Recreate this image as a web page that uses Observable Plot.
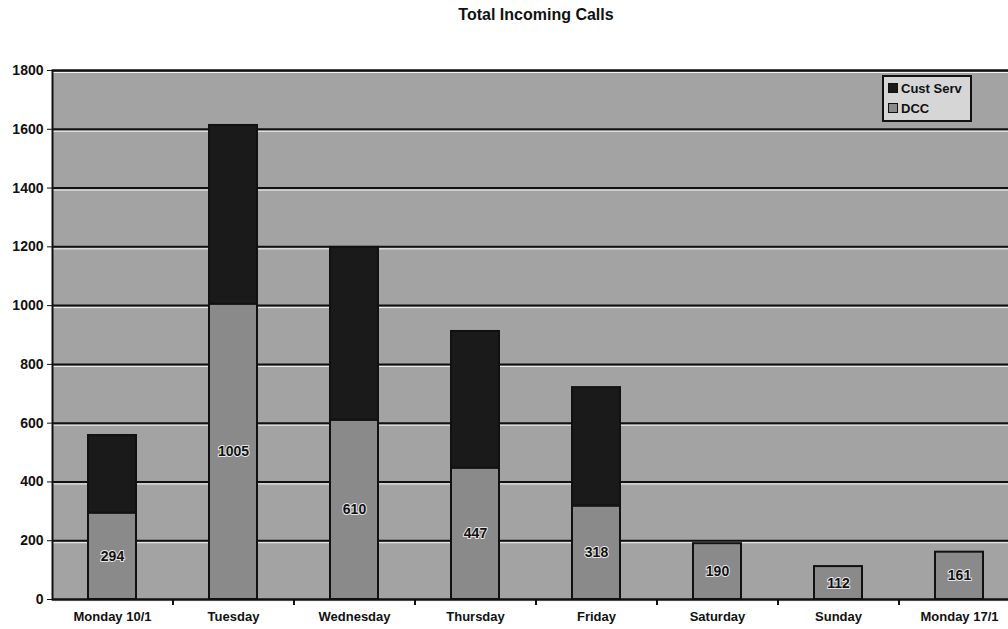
<!DOCTYPE html>
<html>
<head>
<meta charset="utf-8">
<script src="https://cdn.jsdelivr.net/npm/d3@7"></script>
<script src="https://cdn.jsdelivr.net/npm/@observablehq/plot@0.6"></script>
<style>
  html, body { margin: 0; padding: 0; background: white; overflow: hidden; width: 1008px; height: 629px; }
  body { font-family: "Liberation Sans", Arial, sans-serif; position: relative; }
  #title { height: 40px; line-height: 30px; text-align: center; padding-left: 64px; font-weight: bold; font-size: 16px; color: #111; }
  #legend { position: absolute; left: 882px; top: 75px; width: 86px; height: 43px; background: #d6d6d6; border: 2px solid #111; font-weight: bold; font-size: 13px; color: #111; padding: 0; }
  #legend .row { display: flex; align-items: center; height: 18px; margin-left: 4px; margin-top: 2px; }
  #legend .sw { width: 8px; height: 8px; border: 1px solid #111; margin-right: 3px; }
  #chart svg g[aria-label="y-axis tick label"] text, #chart svg g[aria-label="y-axis"] text { font-size: 14px; }
  #chart svg g[aria-label="x-axis tick label"] text, #chart svg g[aria-label="x-axis"] text { font-size: 13px; }
</style>
</head>
<body>
<div id="title">Total Incoming Calls</div>
<div id="chart"></div>
<div id="legend"></div>
<script>
const days = ["Monday 10/1", "Tuesday", "Wednesday", "Thursday", "Friday", "Saturday", "Sunday", "Monday 17/1"];
const dcc = [294, 1005, 610, 447, 318, 190, 112, 161];
const custServ = [264, 608, 588, 465, 403, 0, 0, 0];
const seriesNames = ["Cust Serv", "DCC"];
const seriesColors = ["#1a1a1a", "#8a8a8a"];
const yTicks = [0, 200, 400, 600, 800, 1000, 1200, 1400, 1600, 1800];

const rows = [];
days.forEach((d, i) => {
  rows.push({day: d, series: "DCC", value: dcc[i]});
  rows.push({day: d, series: "Cust Serv", value: custServ[i]});
});
const labels = days.map((d, i) => ({day: d, mid: dcc[i] / 2, text: String(dcc[i])}));

const W = 1020, ML = 52, MR = 0, PI = 0.6, PO = 0.3;
const step = (W - ML - MR) / (days.length - PI + 2 * PO);

const chart = Plot.plot({
  width: W,
  height: 589,
  marginTop: 30,
  marginBottom: 30,
  marginLeft: ML,
  marginRight: MR,
  style: {fontFamily: "'Liberation Sans', Arial, sans-serif", fontSize: "13px", fontWeight: "bold", color: "#111", background: "transparent", maxWidth: "none", overflow: "visible"},
  x: {domain: days, paddingInner: PI, paddingOuter: PO, label: null, tickSize: 0, tickPadding: 12},
  y: {domain: [0, 1800], ticks: yTicks, tickFormat: d => String(d), tickSize: 5, tickPadding: 4, label: null},
  color: {domain: seriesNames, range: seriesColors},
  marks: [
    Plot.frame({fill: "#a3a3a3"}),
    Plot.ruleY(yTicks, {stroke: "#f4f4f4", strokeWidth: 1, dy: 2}),
    Plot.ruleY(yTicks, {stroke: "#111", strokeWidth: 2}),
    Plot.barY(rows, {x: "day", y: "value", fill: "series", stroke: "#111", strokeWidth: 2}),
    Plot.text(labels, {x: "day", y: "mid", text: "text", fill: "#111", stroke: "#e6e6e6", strokeWidth: 2, paintOrder: "stroke", fontSize: 14, fontWeight: "bold"}),
    Plot.frame({stroke: "#111", strokeWidth: 2}),
    Plot.ruleX(days, {x: d => d, y1: 0, y2: 0, insetBottom: -6, dx: step / 2, stroke: "#111", strokeWidth: 2})
  ]
});
document.getElementById("chart").appendChild(chart);

const legend = document.getElementById("legend");
seriesNames.forEach((name, i) => {
  const row = document.createElement("div");
  row.className = "row";
  const sw = document.createElement("div");
  sw.className = "sw";
  sw.style.background = seriesColors[i];
  row.appendChild(sw);
  row.appendChild(document.createTextNode(name));
  legend.appendChild(row);
});
</script>
</body>
</html>
